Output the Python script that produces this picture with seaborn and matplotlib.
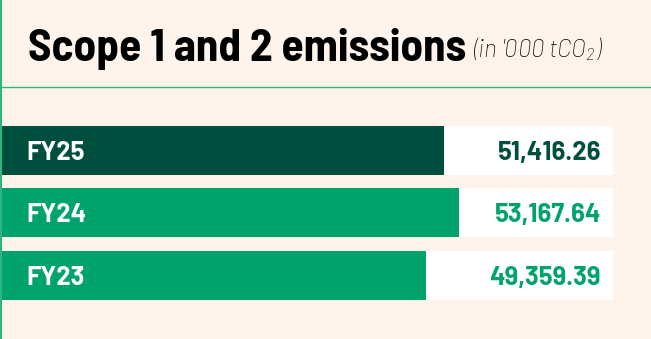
import matplotlib
matplotlib.use("Agg")
import matplotlib.pyplot as plt
import seaborn as sns
import pandas as pd
from matplotlib.lines import Line2D

categories = ["FY25", "FY24", "FY23"]
values = [51416.26, 53167.64, 49359.39]
value_labels = ["51,416.26", "53,167.64", "49,359.39"]
colors = ["#004F3E", "#00A36C", "#00A36C"]

BG = "#FFF4EB"
LINE = "#2FB37F"
FONT = ["Barlow Semi Condensed", "DejaVu Sans"]
LABEL_FONT = ["Barlow", "DejaVu Sans"]

sns.set_theme(style="white")
plt.rcParams["font.family"] = FONT
plt.rcParams["mathtext.fontset"] = "custom"
plt.rcParams["mathtext.rm"] = "Barlow:italic:light"
plt.rcParams["mathtext.it"] = "Barlow:italic:light"

W, H = 651, 339
fig = plt.figure(figsize=(W / 100, H / 100), dpi=100)
fig.patch.set_facecolor(BG)

ax = fig.add_axes([0, (H - 306.5) / H, 1, 187.5 / H])
ax.set_facecolor("none")

xmax = 613 / 0.008634
df = pd.DataFrame({"cat": categories, "val": values, "bg": [xmax] * 3})

sns.barplot(data=df, x="bg", y="cat", color="white", saturation=1,
            width=0.784, ax=ax, edgecolor="none")
sns.barplot(data=df, x="val", y="cat", hue="cat", palette=colors,
            saturation=1, width=0.784, ax=ax, legend=False, edgecolor="none")

ax.set_xlim(0, W / 0.008634)
ax.set_ylim(2.5, -0.5)
ax.axis("off")

for i, (cat, lab, col) in enumerate(zip(categories, value_labels, colors)):
    ax.text(26.5 / 0.008634, i, cat, color="white", fontsize=18.5,
            fontweight="bold", family=LABEL_FONT,
            va="center_baseline", ha="left")
    ax.text(601 / 0.008634, i, lab, color=col, fontsize=18.5,
            fontweight="bold", family=LABEL_FONT,
            va="center_baseline", ha="right")

fig.text(28 / W, 1 - 61 / H, "Scope 1 and 2 emissions", fontsize=32.5,
         fontweight="bold", color="black", va="baseline", ha="left")
fig.text(473 / W, 1 - 57 / H, r"(in '000 tCO$_2$)", fontsize=17.5,
         fontstyle="italic", fontweight="light", family=LABEL_FONT,
         color="black", va="baseline", ha="left")

fig.add_artist(Line2D([0, 1], [1 - 87.5 / H, 1 - 87.5 / H],
                      transform=fig.transFigure, color=LINE, lw=1))
fig.add_artist(Line2D([1.2 / W, 1.2 / W], [0, 1],
                      transform=fig.transFigure, color=LINE, lw=1.5))

fig.savefig("out.png", dpi=100, facecolor=BG)
